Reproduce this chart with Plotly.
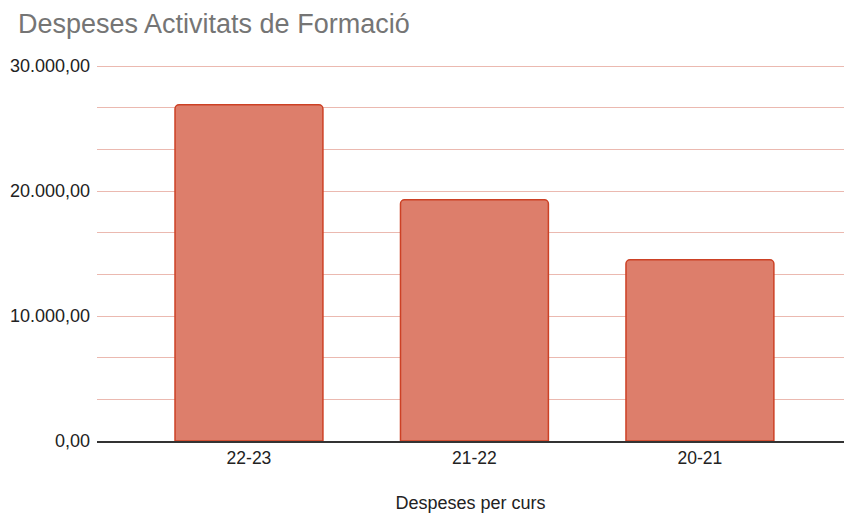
import plotly.graph_objects as go

categories = ["22-23", "21-22", "20-21"]
values = [26900, 19300, 14500]
y_ticks = [0, 10000, 20000, 30000]

FONT = "Arial, Liberation Sans, sans-serif"
GRID = "#ebb9b0"

fig = go.Figure(go.Bar(
    x=categories, y=values,
    width=0.656,
    marker=dict(color="#dd7e6b", line=dict(color="#cc4125", width=1.5), cornerradius=4),
    hoverinfo="x+y",
))

fig.update_layout(
    width=844, height=513,
    margin=dict(l=97, r=0, t=64, b=72),
    paper_bgcolor="white", plot_bgcolor="white",
    separators=",.",
    showlegend=False,
    title=dict(text="Despeses Activitats de Formació", x=18/844, xanchor="left",
               y=1 - 24/513, yanchor="middle",
               font=dict(family=FONT, size=27, color="#757575")),
    font=dict(family=FONT, color="#222222", size=18),
)
fig.update_xaxes(
    type="category", range=[-0.674, 2.639],
    showgrid=False, showline=True, linecolor="#333333", linewidth=1.5,
    ticks="", tickfont=dict(family=FONT, size=17.5, color="#222222"),
    title=dict(text="Despeses per curs", font=dict(family=FONT, size=18, color="#222222"), standoff=30),
)
fig.update_yaxes(
    range=[0, 30160], tickvals=y_ticks, tickformat=",.2f",
    showgrid=True, gridcolor=GRID, gridwidth=1,
    minor=dict(dtick=10000/3, tick0=0, showgrid=True, gridcolor=GRID, gridwidth=1),
    zeroline=False, showline=False, ticks="",
    tickfont=dict(family=FONT, size=18, color="#222222"), ticklabelstandoff=6,
)

fig.write_html(
    "out.html",
    config={"displayModeBar": False},
    post_script="document.body.style.margin='0';document.body.style.overflow='hidden';",
)
